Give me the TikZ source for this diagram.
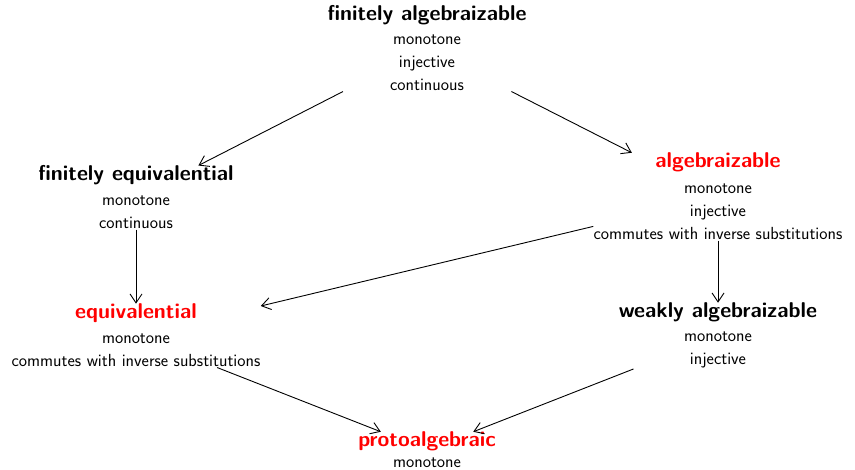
\documentclass[tikz,border=0pt]{standalone}
\usepackage{xcolor}
\usetikzlibrary{positioning,fit,arrows.meta}

\begin{document}
\begin{tikzpicture}[
    x=1pt, y=-1pt,
    title/.style={font=\sffamily\bfseries\fontsize{21.4}{25}\selectfont, inner sep=0pt, anchor=base},
    props/.style={font=\sffamily\fontsize{17.5}{23}\selectfont, align=center, inner sep=0pt, anchor=base},
    vertex/.style={inner sep=0pt, draw=none},
    edge/.style={-{Straight Barb[length=9pt, width=12pt]}, line width=0.9pt, black}
]
    % Bounding box with the margins of the picture
    \useasboundingbox (0,0) rectangle (855,470);

    % Titles of the classes
    \node[title] (fa-t) at (427,21) {finitely algebraizable};
    \node[title] (fe-t) at (136,181) {finitely equivalential};
    \node[title, red] (al-t) at (718,168) {algebraizable};
    \node[title, red] (eq-t) at (136,319) {equivalential};
    \node[title] (wa-t) at (718,318) {weakly algebraizable};
    \node[title, red] (pa-t) at (427,447) {protoalgebraic};

    % Properties of the Leibniz operator (placed at the last baseline)
    \node[props] (fa-p) at (427,91) {monotone\\injective\\continuous};
    \node[props] (fe-p) at (136,229) {monotone\\continuous};
    \node[props] (al-p) at (718,240) {monotone\\injective\\commutes with inverse substitutions};
    \node[props] (eq-p) at (136,367) {monotone\\commutes with inverse substitutions};
    \node[props] (wa-p) at (718,365) {monotone\\injective};
    \node[props] (pa-p) at (427,467.5) {monotone};

    % Whole vertices
    \node[vertex, fit=(fa-t)(fa-p)] (fa) {};
    \node[vertex, fit=(fe-t)(fe-p)] (fe) {};
    \node[vertex, fit=(al-t)(al-p)] (al) {};
    \node[vertex, fit=(eq-t)(eq-p)] (eq) {};
    \node[vertex, fit=(wa-t)(wa-p)] (wa) {};
    \node[vertex, fit=(pa-t)(pa-p)] (pa) {};

    % Inclusions
    \draw[edge] (fa) -- (fe);
    \draw[edge] (fa) -- (al);
    \draw[edge] (fe) -- (eq);
    \draw[edge] (al) -- (eq);
    \draw[edge] (al) -- (wa);
    \draw[edge] (eq) -- (pa);
    \draw[edge] (wa) -- (pa);
\end{tikzpicture}
\end{document}
